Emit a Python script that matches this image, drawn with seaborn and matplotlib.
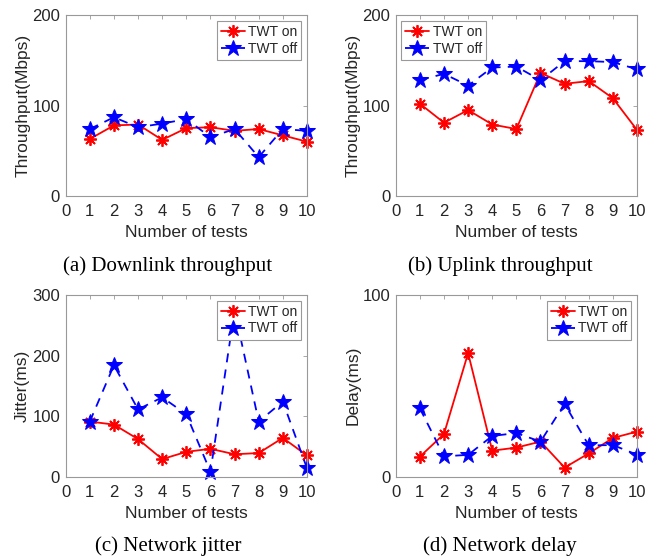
import seaborn as sns
import matplotlib.pyplot as plt
import pandas as pd

tests = list(range(1, 11))

down_on = [63, 78, 79, 62, 75, 76, 72, 74, 67, 60]
down_off = [74, 87, 76, 80, 85, 65, 74, 43, 74, 72]

up_on = [102, 81, 95, 79, 74, 136, 124, 127, 108, 73]
up_off = [128, 135, 122, 142, 143, 128, 149, 149, 148, 140]

jitter_on = [91, 86, 62, 29, 41, 46, 37, 39, 64, 35]
jitter_off = [91, 184, 111, 131, 103, 8, 275, 91, 124, 14]

delay_on = [11, 23.5, 68, 14.3, 16, 19.3, 5, 12.8, 21.3, 24.8]
delay_off = [37.6, 11.2, 12, 22.4, 24, 19.3, 40, 17.2, 17.4, 12.1]

panels = [
    ("(a) Downlink throughput", "Throughput(Mbps)", down_on, down_off, 200, [0, 100, 200], "upper right"),
    ("(b) Uplink throughput", "Throughput(Mbps)", up_on, up_off, 200, [0, 100, 200], "upper left"),
    ("(c) Network jitter", "Jitter(ms)", jitter_on, jitter_off, 300, [0, 100, 200, 300], "upper right"),
    ("(d) Network delay", "Delay(ms)", delay_on, delay_off, 100, [0, 100], "upper right"),
]

sns.set_style("white")
plt.rcParams['font.family'] = ['Liberation Sans', 'DejaVu Sans']

fig = plt.figure(figsize=(6.58, 5.60), dpi=100)

# axes boxes in figure fractions: left, bottom, width, height
boxes = [
    [0.0998, 0.650, 0.3667, 0.3232],
    [0.6014, 0.650, 0.3667, 0.3232],
    [0.0998, 0.1488, 0.3667, 0.3245],
    [0.6014, 0.1488, 0.3667, 0.3245],
]
caption_pos = [(168, 266), (500, 266), (168, 546), (500, 546)]

gray = '#262626'
axcol = '#999999'

for (caption, ylab, on, off, ymax, yticks, loc), box, cpos in zip(panels, boxes, caption_pos):
    ax = fig.add_axes(box)
    df = pd.DataFrame({'test': tests, 'on': on, 'off': off})

    sns.lineplot(data=df, x='test', y='on', ax=ax, color='red', lw=1.3,
                 marker=(8, 2, 0), markersize=9, markeredgewidth=1.3,
                 markeredgecolor='red', label='TWT on', clip_on=False, zorder=2)
    sns.lineplot(data=df, x='test', y='off', ax=ax, color='blue', lw=1.3,
                 linestyle=(0, (5, 4)), marker='*', markersize=12,
                 markerfacecolor='blue', markeredgecolor='blue', label='TWT off',
                 clip_on=False, zorder=2)

    ax.set_xlim(0, 10)
    ax.set_ylim(0, ymax)
    ax.set_xticks(range(0, 11))
    ax.set_yticks(yticks)
    ax.set_xlabel("Number of tests", fontsize=12.5, color=gray, labelpad=4)
    ax.set_ylabel(ylab, fontsize=12.5, color=gray, labelpad=1.5)
    ax.tick_params(direction='in', length=3, width=0.6, colors=axcol,
                   labelcolor=gray, labelsize=12, top=True, right=True)
    ax.tick_params(axis='x', pad=6)
    ax.tick_params(axis='y', pad=4)
    for s in ax.spines.values():
        s.set_visible(True)
        s.set_color(axcol)
        s.set_linewidth(0.8)

    leg = ax.legend(loc=loc, fontsize=10, frameon=True, fancybox=False,
                    edgecolor=axcol, facecolor='white', framealpha=1,
                    handlelength=1.7, borderpad=0.3, labelspacing=0.2,
                    handletextpad=0.25, borderaxespad=0.4)
    leg.set_zorder(20)
    leg.get_frame().set_linewidth(0.8)
    for t in leg.get_texts():
        t.set_color(gray)

    fig.text(cpos[0] / 658, 1 - cpos[1] / 560, caption, ha='center', va='center',
             fontsize=15, family=['Liberation Serif', 'DejaVu Serif'], color='black')

plt.savefig("out.png", dpi=100)
